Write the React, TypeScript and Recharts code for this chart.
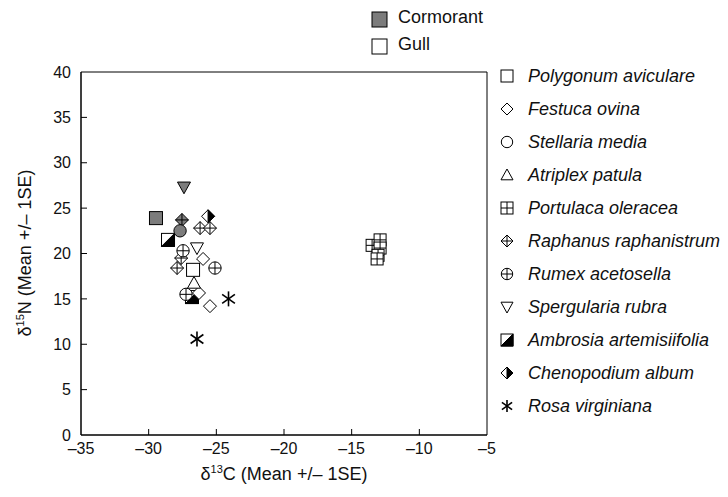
import React from 'react';
import { ScatterChart, Scatter, XAxis, YAxis, ReferenceArea } from 'recharts';

// tick values
const xTicks = [-35, -30, -25, -20, -15, -10, -5];
const yTicks = [0, 5, 10, 15, 20, 25, 30, 35, 40];

// cormorant points (grey)
const polygonumCormorant = [{ x: -29.46, y: 23.9 }];
const stellariaCormorant = [{ x: -27.68, y: 22.5 }];
const raphanusCormorant = [{ x: -27.54, y: 23.7 }];
const spergulariaCormorant = [{ x: -27.39, y: 27.3 }];

// gull points (white)
const polygonumGull = [{ x: -26.72, y: 18.2 }];
const festucaGull = [
    { x: -25.98, y: 19.4 },
    { x: -26.28, y: 15.65 },
    { x: -25.47, y: 14.2 },
];
const atriplexGull = [{ x: -26.65, y: 16.75 }];
const portulacaGull = [
    { x: -13.49, y: 20.9 },
    { x: -12.9, y: 21.5 },
    { x: -12.9, y: 20.6 },
    { x: -13.05, y: 19.8 },
    { x: -13.12, y: 19.4 },
];
const raphanusGull = [
    { x: -26.2, y: 22.8 },
    { x: -25.47, y: 22.8 },
    { x: -27.6, y: 19.5 },
    { x: -27.9, y: 18.4 },
];
const rumexGull = [
    { x: -27.46, y: 20.3 },
    { x: -25.1, y: 18.4 },
    { x: -27.24, y: 15.5 },
];
const spergulariaGull = [{ x: -26.43, y: 20.6 }];
const rosaGull = [
    { x: -24.1, y: 15.0 },
    { x: -26.43, y: 10.58 },
];

// half-filled symbols
const ambrosia = [
    { x: -28.57, y: 21.5 },
    { x: -26.8, y: 15.2 },
];
const chenopodium = [{ x: -25.61, y: 24.1 }];

const species = [
    { name: 'Polygonum aviculare', kind: 'square' },
    { name: 'Festuca ovina', kind: 'diamond' },
    { name: 'Stellaria media', kind: 'circle' },
    { name: 'Atriplex patula', kind: 'triUp' },
    { name: 'Portulaca oleracea', kind: 'squareCross' },
    { name: 'Raphanus raphanistrum', kind: 'diamondCross' },
    { name: 'Rumex acetosella', kind: 'circleCross' },
    { name: 'Spergularia rubra', kind: 'triDown' },
    { name: 'Ambrosia artemisiifolia', kind: 'squareHalf' },
    { name: 'Chenopodium album', kind: 'diamondHalf' },
    { name: 'Rosa virginiana', kind: 'star' },
];

const GREY = '#7c7c7c';
const FONT = '"Liberation Sans", Arial, Helvetica, sans-serif';
const TICK_LEN = 6;
const X_MARGIN = 8;
const Y_MARGIN = 10;

const Marker = ({ kind, cx, cy, fill, s }: { kind: string; cx: number; cy: number; fill: string; s: number }) => {
    const h = s / 2;
    const st = { stroke: '#000', strokeWidth: 1 };
    const diamond = `${cx},${cy - h} ${cx + h},${cy} ${cx},${cy + h} ${cx - h},${cy}`;
    switch (kind) {
        case 'square':
            return <rect x={cx - h} y={cy - h} width={s} height={s} fill={fill} {...st} />;
        case 'squareCross':
            return (
                <g>
                    <rect x={cx - h} y={cy - h} width={s} height={s} fill={fill} {...st} />
                    <line x1={cx - h} y1={cy} x2={cx + h} y2={cy} {...st} />
                    <line x1={cx} y1={cy - h} x2={cx} y2={cy + h} {...st} />
                </g>
            );
        case 'diamond':
            return <polygon points={diamond} fill={fill} {...st} />;
        case 'diamondCross':
            return (
                <g>
                    <polygon points={diamond} fill={fill} {...st} />
                    <line x1={cx - h} y1={cy} x2={cx + h} y2={cy} {...st} />
                    <line x1={cx} y1={cy - h} x2={cx} y2={cy + h} {...st} />
                </g>
            );
        case 'circle':
            return <circle cx={cx} cy={cy} r={h * 0.95} fill={fill} {...st} />;
        case 'circleCross':
            return (
                <g>
                    <circle cx={cx} cy={cy} r={h * 0.95} fill={fill} {...st} />
                    <line x1={cx - h * 0.95} y1={cy} x2={cx + h * 0.95} y2={cy} {...st} />
                    <line x1={cx} y1={cy - h * 0.95} x2={cx} y2={cy + h * 0.95} {...st} />
                </g>
            );
        case 'triUp':
            return <polygon points={`${cx},${cy - h} ${cx + h},${cy + h * 0.8} ${cx - h},${cy + h * 0.8}`} fill={fill} {...st} />;
        case 'triDown':
            return <polygon points={`${cx - h},${cy - h * 0.8} ${cx + h},${cy - h * 0.8} ${cx},${cy + h}`} fill={fill} {...st} />;
        case 'squareHalf':
            return (
                <g>
                    <rect x={cx - h} y={cy - h} width={s} height={s} fill="#fff" {...st} />
                    <polygon points={`${cx + h},${cy - h} ${cx + h},${cy + h} ${cx - h},${cy + h}`} fill="#000" {...st} />
                </g>
            );
        case 'diamondHalf':
            return (
                <g>
                    <polygon points={diamond} fill="#fff" {...st} />
                    <polygon points={`${cx},${cy - h} ${cx + h},${cy} ${cx},${cy + h}`} fill="#000" {...st} />
                </g>
            );
        case 'star': {
            const d = h * 0.85;
            const w = 1.6;
            return (
                <g>
                    <line x1={cx} y1={cy - h} x2={cx} y2={cy + h} {...st} strokeWidth={w} />
                    <line x1={cx - d} y1={cy - h * 0.6} x2={cx + d} y2={cy + h * 0.6} {...st} strokeWidth={w} />
                    <line x1={cx - d} y1={cy + h * 0.6} x2={cx + d} y2={cy - h * 0.6} {...st} strokeWidth={w} />
                </g>
            );
        }
        default:
            return null;
    }
};

const shapeOf = (kind: string, fill: string, s = 13) => (props: any) => (
    <Marker kind={kind} cx={props.cx} cy={props.cy} fill={fill} s={s} />
);

const fmt = (v: number) => (v < 0 ? '\u2013' + Math.abs(v) : String(v));

const tickText = { fill: '#111', fontSize: 16, fontFamily: FONT };

// inward ticks: the line goes into the plot, the label sits outside
const XTick = (props: any) => {
    const { x, y, payload } = props;
    const axisY = y - X_MARGIN;
    return (
        <g>
            {payload.value !== -35 && payload.value !== -5 && (
                <line x1={x} y1={axisY} x2={x} y2={axisY - TICK_LEN} stroke="#000" />
            )}
            <text x={x} y={y} dy="0.71em" textAnchor="middle" {...tickText}>
                {fmt(payload.value)}
            </text>
        </g>
    );
};

const YTick = (props: any) => {
    const { x, y, payload } = props;
    const axisX = x + Y_MARGIN;
    return (
        <g>
            {payload.value !== 0 && payload.value !== 40 && (
                <line x1={axisX} y1={y} x2={axisX + TICK_LEN} y2={y} stroke="#000" />
            )}
            <text x={x} y={y} dy="0.355em" textAnchor="end" {...tickText}>
                {fmt(payload.value)}
            </text>
        </g>
    );
};

const Icon = ({ kind, fill, s }: { kind: string; fill: string; s: number }) => (
    <svg width={s + 4} height={s + 4} style={{ display: 'block' }}>
        <Marker kind={kind} cx={(s + 4) / 2} cy={(s + 4) / 2} fill={fill} s={s} />
    </svg>
);

export default function App() {
    return (
        <div style={{ position: 'absolute', left: 0, top: 0, width: 728, height: 497, background: '#fff', fontFamily: FONT }}>
            <ScatterChart width={728} height={497} margin={{ top: 72, right: 241, bottom: 32, left: 41 }}>
                <XAxis
                    type="number"
                    dataKey="x"
                    domain={[-35, -5]}
                    ticks={xTicks}
                    height={30}
                    tickSize={0}
                    tickMargin={X_MARGIN}
                    axisLine={{ stroke: '#000' }}
                    tickLine={false}
                    tick={<XTick />}
                    allowDataOverflow
                />
                <YAxis
                    type="number"
                    dataKey="y"
                    domain={[0, 40]}
                    ticks={yTicks}
                    width={40}
                    tickSize={0}
                    tickMargin={Y_MARGIN}
                    axisLine={{ stroke: '#000' }}
                    tickLine={false}
                    tick={<YTick />}
                    allowDataOverflow
                />
                <ReferenceArea x1={-35} x2={-5} y1={0} y2={40} fill="none" stroke="#000" strokeWidth={1} />

                <Scatter data={ambrosia} shape={shapeOf('squareHalf', '#fff')} isAnimationActive={false} />
                <Scatter data={chenopodium} shape={shapeOf('diamondHalf', '#fff')} isAnimationActive={false} />
                <Scatter data={polygonumGull} shape={shapeOf('square', '#fff')} isAnimationActive={false} />
                <Scatter data={festucaGull} shape={shapeOf('diamond', '#fff')} isAnimationActive={false} />
                <Scatter data={atriplexGull} shape={shapeOf('triUp', '#fff')} isAnimationActive={false} />
                <Scatter data={portulacaGull} shape={shapeOf('squareCross', '#fff', 12)} isAnimationActive={false} />
                <Scatter data={raphanusGull} shape={shapeOf('diamondCross', '#fff')} isAnimationActive={false} />
                <Scatter data={rumexGull} shape={shapeOf('circleCross', '#fff')} isAnimationActive={false} />
                <Scatter data={spergulariaGull} shape={shapeOf('triDown', '#fff')} isAnimationActive={false} />
                <Scatter data={rosaGull} shape={shapeOf('star', '#fff', 15)} isAnimationActive={false} />

                <Scatter data={polygonumCormorant} shape={shapeOf('square', GREY)} isAnimationActive={false} />
                <Scatter data={spergulariaCormorant} shape={shapeOf('triDown', GREY)} isAnimationActive={false} />
                <Scatter data={raphanusCormorant} shape={shapeOf('diamondCross', GREY)} isAnimationActive={false} />
                <Scatter data={stellariaCormorant} shape={shapeOf('circle', GREY)} isAnimationActive={false} />
            </ScatterChart>

            {/* axis titles */}
            <div style={{ position: 'absolute', left: 284, top: 474, transform: 'translate(-50%, -50%)', fontSize: 18, color: '#111', whiteSpace: 'nowrap' }}>
                δ<sup style={{ fontSize: 11 }}>13</sup>C (Mean +/– 1SE)
            </div>
            <div style={{ position: 'absolute', left: 25, top: 253, transform: 'translate(-50%, -50%) rotate(-90deg)', fontSize: 18, color: '#111', whiteSpace: 'nowrap' }}>
                δ<sup style={{ fontSize: 11 }}>15</sup>N (Mean +/– 1SE)
            </div>

            {/* bird legend */}
            {[
                { label: 'Cormorant', fill: GREY, y: 19 },
                { label: 'Gull', fill: '#fff', y: 46 },
            ].map((b) => (
                <div key={b.label} style={{ position: 'absolute', left: 370, top: b.y - 10, height: 20, display: 'flex', alignItems: 'center' }}>
                    <Icon kind="square" fill={b.fill} s={15} />
                    <span style={{ marginLeft: 9, fontSize: 18, color: '#111', position: 'relative', top: -2 }}>{b.label}</span>
                </div>
            ))}

            {/* species legend */}
            {species.map((sp, i) => (
                <div key={sp.name} style={{ position: 'absolute', left: 499, top: 76 + i * 33 - 10, height: 20, display: 'flex', alignItems: 'center' }}>
                    <Icon kind={sp.kind} fill="#fff" s={12} />
                    <span style={{ marginLeft: 13, fontSize: 18, fontStyle: 'italic', color: '#111' }}>{sp.name}</span>
                </div>
            ))}
        </div>
    );
}
